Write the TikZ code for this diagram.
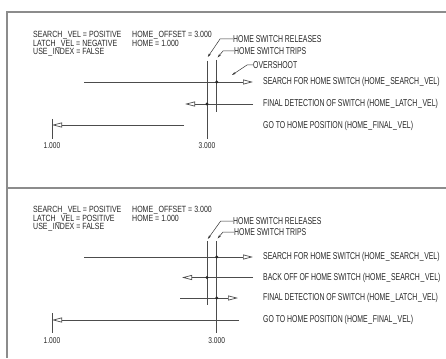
\documentclass[tikz,border=0pt]{standalone}
\usepackage{fontspec}
\setmainfont{Liberation Sans}
\usetikzlibrary{arrows.meta}

\tikzset{
  frame/.style={line width=1.4pt,black!45},
  axis/.style={line width=0.7pt,black!70},
  move/.style={axis,-{Triangle[open,length=10pt,width=5pt]}},
  leader/.style={line width=0.5pt,black!80,-{Stealth[length=4pt,width=2.2pt]}},
  lbl/.style={font=\fontsize{10}{8}\selectfont,text=black!85,inner sep=0pt,anchor=west},
  par/.style={lbl,font=\fontsize{9}{7.7}\selectfont,anchor=north west},
  num/.style={lbl,font=\fontsize{8.5}{8}\selectfont,anchor=center},
}
\newcommand{\hit}[1]{\fill[black!85] (#1) circle (1.6pt);}
\newcommand{\us}{\hspace{0.1em}\_\hspace{0.1em}}
\newcommand{\nar}[2][0.69]{\scalebox{#1}[1]{#2}}
\newcommand{\parlist}[1]{\nar[0.78]{\begin{tabular}{@{}l@{}}#1\end{tabular}}}

\begin{document}
\begin{tikzpicture}[x=1pt,y=-1pt]
  \useasboundingbox (0,0) rectangle (446,358);
  % frame
  \draw[frame] (446,12) -- (7,12) -- (7,358);
  \draw[frame] (7,188) -- (446,188);

  % ---- upper case: latch velocity negative
  \node[par] (parA) at (33,31) {\parlist{SEARCH\us VEL = POSITIVE\\LATCH\us VEL = NEGATIVE\\USE\us INDEX = FALSE}};
  \node[par] (offA) at (132,31) {\parlist{HOME\us OFFSET = 3.000\\HOME = 1.000}};
  \node[lbl] (relA) at (233,39) {\nar{HOME SWITCH RELEASES}};
  \node[lbl] (tripA) at (234,51) {\nar{HOME SWITCH TRIPS}};
  \node[lbl] (overA) at (253,65) {\nar{OVERSHOOT}};
  \draw[leader] (relA.west) -- (220,39) -- (207.8,57);
  \draw[leader] (tripA.west) -- (223,51) -- (217.6,57.5);
  \draw[leader] (overA.west) -- (247,65) -- (232,75);
  \draw[axis] (207,61) -- (207,139);
  \draw[axis] (216.7,60) -- (216.7,112);
  \draw[axis] (52,119) -- (52,139);
  \draw[move] (84,82) -- (253,82);
  \draw[move] (253,104) -- (185,104);
  \draw[move] (184,125) -- (52,125);
  \hit{216.7,82} \hit{207,104}
  \node[lbl] (srchA) at (263,82) {\nar{SEARCH FOR HOME SWITCH (HOME\us SEARCH\us VEL)}};
  \node[lbl] (finA) at (263,104) {\nar{FINAL DETECTION OF SWITCH (HOME\us LATCH\us VEL)}};
  \node[lbl] (goA) at (263,126) {\nar{GO TO HOME POSITION (HOME\us FINAL\us VEL)}};
  \node[num] (oneA) at (52,146) {\nar[0.78]{1.000}};
  \node[num] (threeA) at (207,146) {\nar[0.78]{3.000}};

  % ---- lower case: latch velocity positive
  \node[par] (parB) at (33,206) {\parlist{SEARCH\us VEL = POSITIVE\\LATCH\us VEL = POSITIVE\\USE\us INDEX = FALSE}};
  \node[par] (offB) at (132,206) {\parlist{HOME\us OFFSET = 3.000\\HOME = 1.000}};
  \node[lbl] (relB) at (233,221) {\nar{HOME SWITCH RELEASES}};
  \node[lbl] (tripB) at (234,232) {\nar{HOME SWITCH TRIPS}};
  \draw[leader] (relB.west) -- (220.7,221) -- (207.8,239);
  \draw[leader] (tripB.west) -- (223,232) -- (217.6,238.5);
  \draw[axis] (207,241) -- (207,305);
  \draw[axis] (216.7,241) -- (216.7,333);
  \draw[axis] (52,313) -- (52,333);
  \draw[move] (84,257) -- (253,257);
  \draw[move] (253,277.5) -- (182,277.5);
  \draw[move] (180,298) -- (238,298);
  \draw[move] (239,320) -- (52,320);
  \hit{216.7,257} \hit{207,277.5} \hit{216.7,298}
  \node[lbl] (srchB) at (263,257) {\nar{SEARCH FOR HOME SWITCH (HOME\us SEARCH\us VEL)}};
  \node[lbl] (backB) at (263,277.5) {\nar{BACK OFF OF HOME SWITCH (HOME\us SEARCH\us VEL)}};
  \node[lbl] (finB) at (263,298) {\nar{FINAL DETECTION OF SWITCH (HOME\us LATCH\us VEL)}};
  \node[lbl] (goB) at (263,320) {\nar{GO TO HOME POSITION (HOME\us FINAL\us VEL)}};
  \node[num] (oneB) at (52,341) {\nar[0.78]{1.000}};
  \node[num] (threeB) at (216.7,341) {\nar[0.78]{3.000}};
\end{tikzpicture}
\end{document}
